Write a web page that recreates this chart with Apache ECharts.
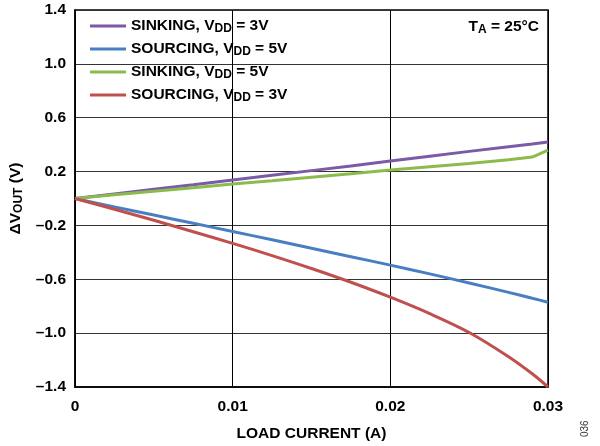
<!DOCTYPE html>
<html><head><meta charset="utf-8">
<script src="https://cdn.jsdelivr.net/npm/echarts@6/dist/echarts.min.js"></script>
<style>html,body{margin:0;padding:0;background:#fff}#c{width:600px;height:446px}</style>
</head><body><div id="c"></div>
<script>
var loadCurrent = [0, 0.0025, 0.005, 0.0075, 0.01, 0.0125, 0.015, 0.0175, 0.02, 0.0225, 0.025, 0.0275, 0.029, 0.03];
var sinking3V  = [0, 0.034, 0.068, 0.102, 0.137, 0.172, 0.207, 0.242, 0.278, 0.314, 0.350, 0.385, 0.405, 0.420];
var sourcing5V = [0, -0.062, -0.123, -0.184, -0.245, -0.307, -0.370, -0.432, -0.495, -0.560, -0.627, -0.697, -0.741, -0.770];
var sinking5V  = [0, 0.027, 0.053, 0.080, 0.107, 0.132, 0.158, 0.184, 0.211, 0.236, 0.260, 0.287, 0.308, 0.360];
var sourcing3V = [0, -0.080, -0.162, -0.247, -0.333, -0.424, -0.520, -0.622, -0.733, -0.855, -0.995, -1.175, -1.302, -1.400];
var seriesNames = ['SINKING, V_DD = 3V', 'SOURCING, V_DD = 5V', 'SINKING, V_DD = 5V', 'SOURCING, V_DD = 3V'];
var legendRich = ['{a|SINKING, V}{b|DD}{a| = 3V}', '{a|SOURCING, V}{b|DD}{a| = 5V}', '{a|SINKING, V}{b|DD}{a| = 5V}', '{a|SOURCING, V}{b|DD}{a| = 3V}'];
var colors = ['#7B5AA6', '#4A7EC2', '#8DBB4B', '#C0504D'];
var seriesData = [sinking3V, sourcing5V, sinking5V, sourcing3V];
var smoothing = [false, 0.2, false, 0.35];

function pairs(ys){ return loadCurrent.map(function(x,i){ return [x, ys[i]]; }); }
var FONT = 'Liberation Sans, Arial, sans-serif';
var FS = 15.5, SFS = 12;
function rich(fillKey){
  var a = {fontFamily: FONT, fontSize: FS, fontWeight: 'bold', lineHeight: 18, verticalAlign: 'middle'};
  var b = {fontFamily: FONT, fontSize: SFS, fontWeight: 'bold', lineHeight: 18, verticalAlign: 'bottom', padding: [7, 0, 0, 0]};
  a[fillKey] = '#000'; b[fillKey] = '#000';
  return {a: a, b: b};
}

var chart = echarts.init(document.getElementById('c'));
chart.setOption({
  animation: false,
  grid: {left: 75, right: 52, top: 10, bottom: 59, outerBoundsMode: 'none', containLabel: false, show: true, borderColor: '#000', borderWidth: 1.5, backgroundColor: 'transparent'},
  legend: {
    left: 85, top: 11, orient: 'vertical', itemGap: 4, itemWidth: 36, itemHeight: 3, icon: 'rect',
    data: seriesNames,
    formatter: function(n){ return legendRich[seriesNames.indexOf(n)]; },
    textStyle: {rich: rich('color')}
  },
  xAxis: {
    type: 'value', min: 0, max: 0.03, interval: 0.01,
    name: 'LOAD CURRENT (A)', nameLocation: 'middle', nameGap: 39,
    nameTextStyle: {fontFamily: FONT, fontSize: FS, fontWeight: 'bold', color: '#000'},
    axisLine: {show: true, onZero: false, lineStyle: {color: '#000', width: 1.5}},
    axisTick: {show: false},
    axisLabel: {fontFamily: FONT, fontSize: FS, fontWeight: 'bold', color: '#000', margin: 12,
      formatter: function(v){ var r = Math.round(v*100)/100; return r === 0 ? '0' : r.toFixed(2); }},
    splitLine: {show: true, lineStyle: {color: '#000', width: 1}}
  },
  yAxis: {
    type: 'value', min: -1.4, max: 1.4, interval: 0.4,
    name: '{a|ΔV}{b|OUT}{a| (V)}', nameLocation: 'middle', nameGap: 47, nameRotate: 90,
    nameTextStyle: {rich: rich('color')},
    axisLine: {show: true, onZero: false, lineStyle: {color: '#000', width: 1.5}},
    axisTick: {show: false},
    axisLabel: {fontFamily: FONT, fontSize: FS, fontWeight: 'bold', color: '#000', margin: 9,
      formatter: function(v){ var r = Math.round(v*10)/10; return (r < 0 ? '\u2013' : '') + Math.abs(r).toFixed(1); }},
    splitLine: {show: true, lineStyle: {color: '#333', width: 1}}
  },
  graphic: [
    {type: 'text', right: 61, top: 17, style: {rich: rich('fill'), text: '{a|T}{b|A}{a| = 25°C}'}},
    {type: 'text', x: 580, y: 437, rotation: Math.PI/2, style: {text: '036', fontFamily: FONT, fontSize: 10, fill: '#333'}}
  ],
  series: seriesNames.map(function(n, i){
    return {name: n, type: 'line', data: pairs(seriesData[i]), symbol: 'none', smooth: smoothing[i],
      lineStyle: {color: colors[i], width: 3}, itemStyle: {color: colors[i]}};
  })
});
</script></body></html>
